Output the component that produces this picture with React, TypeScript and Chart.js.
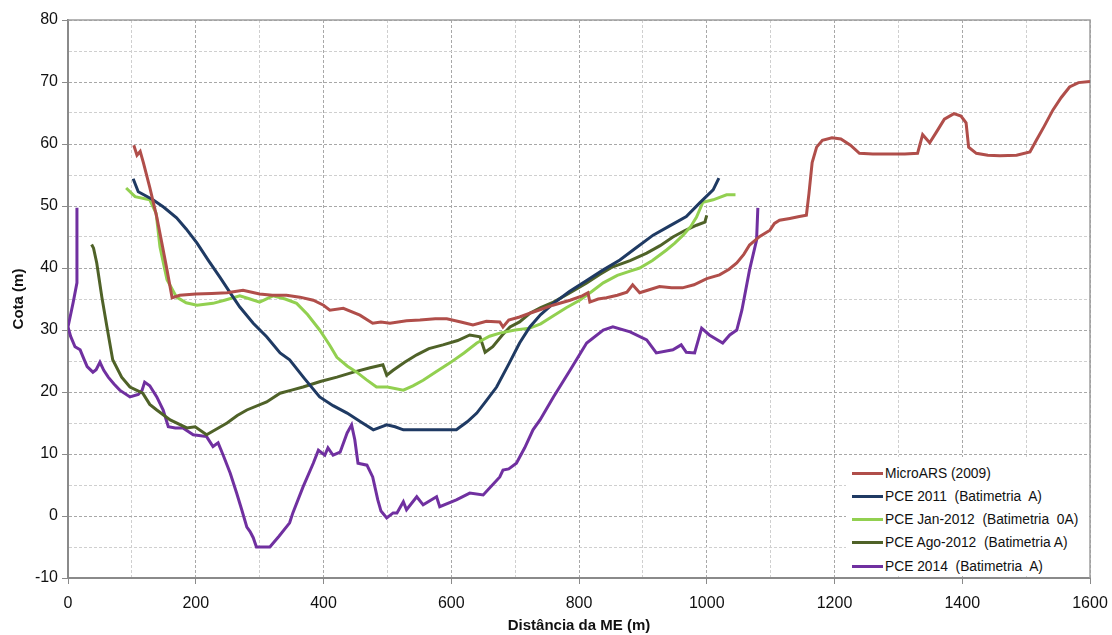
import React, { useEffect, useRef } from "react";
import { Chart, registerables } from "chart.js";

Chart.register(...registerables);

// Cross-section profiles: distance from left bank (m) and elevation (m)
const microArsDist = [103, 108, 113, 118, 128, 139, 147, 155, 163, 175, 200, 225, 249, 274, 300, 320, 342, 363, 384, 400, 410, 431, 457, 477, 490, 504, 530, 551, 575, 593, 615, 634, 655, 676, 681, 690, 707, 723, 740, 759, 786, 805, 814, 817, 830, 843, 860, 875, 884, 895, 910, 926, 945, 962, 980, 1000, 1020, 1035, 1047, 1058, 1067, 1083, 1099, 1106, 1114, 1130, 1145, 1156, 1160, 1165, 1172, 1181, 1196, 1210, 1225, 1239, 1260, 1290, 1310, 1330, 1338, 1349, 1360, 1372, 1387, 1398, 1406, 1410, 1422, 1440, 1459, 1485, 1506, 1516, 1528, 1542, 1555, 1568, 1582, 1600];
const microArsCota = [59.8, 58.2, 58.8, 57, 53, 48.2, 44, 39.7, 35.2, 35.6, 35.8, 35.9, 36, 36.4, 35.8, 35.6, 35.6, 35.3, 34.8, 34, 33.2, 33.5, 32.4, 31.1, 31.3, 31.1, 31.5, 31.6, 31.8, 31.8, 31.3, 30.8, 31.4, 31.3, 30.5, 31.6, 32.1, 32.7, 33.3, 34, 34.8, 35.5, 36, 34.5, 35, 35.2, 35.6, 36.1, 37.3, 36, 36.5, 37, 36.8, 36.8, 37.3, 38.3, 38.9, 39.8, 40.8, 42.2, 43.7, 45.1, 46.1, 47.2, 47.7, 48, 48.3, 48.5, 52, 57, 59.5, 60.6, 61, 60.8, 59.8, 58.5, 58.4, 58.4, 58.4, 58.5, 61.5, 60.2, 62, 64, 64.9, 64.5, 63.4, 59.5, 58.5, 58.2, 58.1, 58.2, 58.7, 60.6, 62.8, 65.5, 67.5, 69.2, 69.9, 70.1];

const pce2011Dist = [102, 110, 133, 150, 170, 185, 202, 220, 238, 254, 269, 290, 311, 332, 347, 370, 394, 415, 437, 458, 478, 499, 512, 525, 560, 608, 625, 640, 655, 671, 690, 707, 723, 740, 760, 785, 812, 838, 864, 890, 916, 942, 968, 989, 1010, 1019];
const pce2011Cota = [54.4, 52.3, 51, 49.8, 48.1, 46.3, 44, 41.2, 38.5, 36, 33.7, 31.1, 28.9, 26.3, 25.2, 22.2, 19.2, 17.8, 16.6, 15.2, 13.9, 14.7, 14.4, 13.9, 13.9, 13.9, 15.2, 16.6, 18.6, 20.8, 24.5, 27.9, 30.5, 32.5, 34.3, 36.2, 38, 39.7, 41.3, 43.3, 45.3, 46.8, 48.3, 50.5, 52.6, 54.5];

const pceJan2012Dist = [91, 105, 128, 138, 144, 150, 155, 170, 185, 202, 227, 245, 269, 285, 300, 321, 340, 358, 375, 394, 410, 421, 437, 452, 467, 483, 500, 525, 540, 556, 575, 598, 620, 640, 660, 676, 700, 723, 740, 760, 780, 801, 820, 838, 860, 880, 895, 915, 937, 950, 963, 975, 984, 994, 1010, 1031, 1045];
const pceJan2012Cota = [52.9, 51.5, 51, 48.8, 43.4, 40.5, 38.1, 35.3, 34.4, 34, 34.3, 34.8, 35.5, 35, 34.5, 35.5, 35, 34.3, 32.5, 30, 27.5, 25.6, 24.2, 23.2, 22, 20.8, 20.8, 20.3, 21, 21.9, 23.2, 24.7, 26.3, 27.9, 29, 29.5, 30, 30.3, 31, 32.3, 33.6, 34.8, 36.2, 37.6, 38.8, 39.5, 40, 41.2, 42.9, 44, 45.3, 46.7, 48.2, 50.6, 51, 51.8, 51.8];

const pceAgo2012Dist = [37, 40, 45, 53, 61, 70, 84, 97, 117, 128, 139, 160, 186, 199, 217, 232, 249, 265, 280, 311, 332, 350, 368, 395, 421, 447, 473, 493, 499, 509, 527, 546, 565, 587, 610, 629, 645, 653, 665, 680, 692, 707, 723, 740, 760, 786, 812, 833, 853, 880, 906, 927, 947, 965, 984, 997, 1000];
const pceAgo2012Cota = [43.8, 43.2, 40.8, 35.3, 30.5, 25.2, 22.4, 20.8, 19.8, 18, 17.1, 15.5, 14.2, 14.4, 13.1, 14, 15, 16.2, 17.1, 18.4, 19.8, 20.3, 20.8, 21.7, 22.4, 23.2, 23.9, 24.4, 22.7, 23.5, 24.8, 26, 27, 27.6, 28.3, 29.2, 28.9, 26.4, 27.3, 29.2, 30.5, 31.3, 32.7, 33.6, 34.5, 36, 37.6, 39, 40.2, 41.2, 42.4, 43.6, 45, 46, 46.9, 47.4, 48.5];

const pce2014Dist = [14, 14, 8, 0, 4, 11, 19, 25, 30, 39, 44, 50, 56, 63, 72, 81, 97, 110, 116, 120, 128, 139, 149, 157, 168, 180, 196, 205, 217, 222, 227, 235, 243, 254, 264, 272, 280, 285, 290, 295, 316, 330, 347, 352, 368, 384, 392, 402, 407, 415, 426, 437, 444, 449, 454, 468, 477, 485, 490, 499, 509, 515, 525, 530, 546, 556, 577, 582, 608, 629, 650, 676, 681, 690, 702, 715, 728, 739, 760, 786, 812, 838, 853, 880, 906, 921, 947, 960, 968, 981, 992, 1004, 1025, 1036, 1047, 1055, 1067, 1078, 1080];
const pce2014Cota = [49.7, 37.6, 34.4, 30.5, 29, 27.3, 26.8, 25.3, 24.1, 23.2, 23.6, 24.8, 23.5, 22.4, 21.3, 20.3, 19.2, 19.6, 20.3, 21.6, 21, 19.2, 17.1, 14.4, 14.2, 14.2, 13.1, 13, 12.8, 12, 11.2, 11.8, 9.8, 6.9, 3.7, 1, -1.8, -2.5, -3.5, -5, -5, -3.3, -1.1, 0.5, 4.7, 8.5, 10.6, 9.8, 11, 9.8, 10.3, 13.4, 14.7, 12.3, 8.5, 8.2, 6.3, 2.6, 0.8, -0.3, 0.5, 0.5, 2.3, 1, 3.1, 1.8, 3.1, 1.5, 2.6, 3.7, 3.4, 6.3, 7.4, 7.6, 8.5, 11, 13.9, 15.5, 19.2, 23.5, 27.9, 30, 30.5, 29.7, 28.4, 26.3, 26.8, 27.6, 26.4, 26.3, 30.3, 29.2, 27.9, 29.2, 30, 33.2, 39.7, 44.5, 49.7];

const seriesLabels = [
  "MicroARS (2009)",
  "PCE 2011  (Batimetria  A)",
  "PCE Jan-2012  (Batimetria  0A)",
  "PCE Ago-2012  (Batimetria A)",
  "PCE 2014  (Batimetria  A)",
];
const seriesColors = ["#B04E4A", "#1F3A63", "#92D050", "#4F6228", "#7030A0"];

const xMin = 0;
const xMax = 1600;
const xLabelStep = 200;
const xGridStep = 100;
const yMin = -10;
const yMax = 80;
const yLabelStep = 10;
const yGridStep = 5;

const FONT = '"Liberation Sans", Arial, sans-serif';

const toPoints = (xs: number[], ys: number[]) => xs.map((x, i) => ({ x, y: ys[i] }));

const seriesData = [
  toPoints(microArsDist, microArsCota),
  toPoints(pce2011Dist, pce2011Cota),
  toPoints(pceJan2012Dist, pceJan2012Cota),
  toPoints(pceAgo2012Dist, pceAgo2012Cota),
  toPoints(pce2014Dist, pce2014Cota),
];

// Thin frame on the top and right sides of the plot area
const plotFrame = {
  id: "plotFrame",
  beforeDatasetsDraw(chart: any) {
    const { ctx, chartArea } = chart;
    const { left, top, right, bottom } = chartArea;
    ctx.save();
    ctx.strokeStyle = "#9e9e9e";
    ctx.lineWidth = 1.5;
    ctx.beginPath();
    ctx.moveTo(left, top);
    ctx.lineTo(right, top);
    ctx.lineTo(right, bottom);
    ctx.stroke();
    ctx.restore();
  },
};

export default function App() {
  const canvasRef = useRef<HTMLCanvasElement | null>(null);

  useEffect(() => {
    if (!canvasRef.current) return;
    const chart = new Chart(canvasRef.current, {
      type: "line",
      data: {
        datasets: seriesData.map((pts, i) => ({
          label: seriesLabels[i],
          data: pts,
          borderColor: seriesColors[i],
          backgroundColor: seriesColors[i],
          borderWidth: 3,
          pointRadius: 0,
          tension: 0,
          fill: false,
        })),
      },
      options: {
        responsive: false,
        animation: false,
        layout: { padding: { top: 20, right: 22, left: 0, bottom: 0 } },
        plugins: {
          legend: { display: false },
          tooltip: { enabled: false },
        },
        scales: {
          x: {
            type: "linear",
            min: xMin,
            max: xMax,
            afterFit: (scale: any) => {
              scale.height = 57;
              scale.paddingLeft = 0;
              scale.paddingRight = 0;
            },
            ticks: {
              stepSize: xGridStep,
              autoSkip: false,
              maxRotation: 0,
              padding: 10,
              color: "#111",
              font: { family: FONT, size: 16 },
              callback: (v: any) => (Number(v) % xLabelStep === 0 ? String(v) : ""),
            },
            grid: {
              color: (c: any) => (c.tick && c.tick.value % xLabelStep === 0 ? "#a8a8a8" : "#cfcfcf"),
              lineWidth: 1,
              tickLength: 6,
              tickColor: (c: any) => (c.tick && c.tick.value % xLabelStep === 0 ? "#8a8a8a" : "rgba(0,0,0,0)"),
            },
            border: { display: true, color: "#8a8a8a", width: 2, dash: [3, 2] },
            title: {
              display: true,
              text: "Distância da ME (m)",
              color: "#111",
              font: { family: FONT, size: 15, weight: "bold" },
              padding: { top: 0, bottom: 0 },
            },
          },
          y: {
            type: "linear",
            min: yMin,
            max: yMax,
            afterFit: (scale: any) => {
              scale.width = 68;
              scale.paddingTop = 0;
              scale.paddingBottom = 0;
            },
            ticks: {
              stepSize: yGridStep,
              autoSkip: false,
              padding: 4,
              color: "#111",
              font: { family: FONT, size: 16 },
              callback: (v: any) => (Number(v) % yLabelStep === 0 ? String(v) : ""),
            },
            grid: {
              color: (c: any) => (c.tick && c.tick.value % yLabelStep === 0 ? "#a8a8a8" : "#cfcfcf"),
              lineWidth: 1,
              tickLength: 6,
              tickColor: (c: any) => (c.tick && c.tick.value % yLabelStep === 0 ? "#8a8a8a" : "rgba(0,0,0,0)"),
            },
            border: { display: true, color: "#8a8a8a", width: 2, dash: [3, 2] },
            title: {
              display: true,
              text: "Cota (m)",
              color: "#111",
              font: { family: FONT, size: 15, weight: "bold" },
              padding: { top: 10, bottom: 0 },
            },
          },
        },
      },
      plugins: [plotFrame],
    });
    return () => chart.destroy();
  }, []);

  return (
    <div style={{ position: "absolute", left: 0, top: 0, width: 1112, height: 635, background: "#fff" }}>
      <canvas ref={canvasRef} width={1112} height={635} style={{ display: "block" }} />
      <div
        style={{
          position: "absolute",
          left: 846,
          top: 457,
          width: 242,
          height: 119,
          background: "#fff",
          fontFamily: FONT,
          fontSize: 13.8,
          color: "#111",
        }}
      >
        {seriesLabels.map((label, i) => (
          <div
            key={label}
            style={{
              position: "absolute",
              left: 6,
              top: 6 + i * 23.3,
              height: 20,
              display: "flex",
              alignItems: "center",
              whiteSpace: "pre",
            }}
          >
            <span style={{ display: "inline-block", width: 31, height: 3, background: seriesColors[i], marginRight: 2 }} />
            <span>{label}</span>
          </div>
        ))}
      </div>
    </div>
  );
}
